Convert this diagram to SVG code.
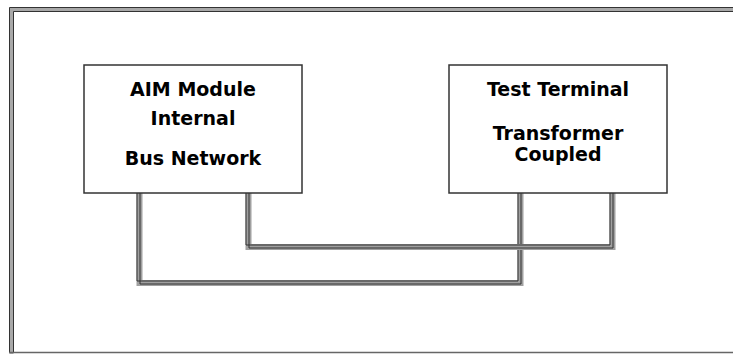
<svg xmlns="http://www.w3.org/2000/svg" width="733" height="354" viewBox="0 0 733 354">
<style>
.box{fill:#fff;stroke:#333;stroke-width:1.5}
.lbl{font-family:"DejaVu Sans","Liberation Sans",sans-serif;font-weight:bold;font-size:19px;fill:#000;text-anchor:middle}
.band{fill:none;stroke:#a0a0a0;stroke-width:6}
.edge{fill:none;stroke:#333;stroke-width:1}
</style>
<rect x="0" y="0" width="733" height="354" fill="#fff"/>
<g id="frame">
<path d="M11.5,354 V9.5 H733" fill="none" stroke="#a8a8a8" stroke-width="4"/>
<path d="M9.5,352 V7.5 H733" class="edge" stroke-width="1.5"/>
<path d="M13.5,352 V11.5 H733" class="edge" stroke-width="1.5"/>
<path d="M9,352.5 H733" fill="none" stroke="#666" stroke-width="1.5"/>
</g>
<g id="connectors">
<path class="band" d="M139.5,193 V283 H520.5 V193"/>
<path class="edge" d="M137,193 V281 H518 V193"/>
<path class="edge" d="M140,193 V284 H521 V193"/>
<path class="band" d="M248.5,193 V247 H612.5 V193"/>
<path class="edge" d="M246,193 V245 H610 V193"/>
<path class="edge" d="M249,193 V248 H613 V193"/>
</g>
<g id="aim">
<rect class="box" x="84" y="65" width="218" height="128"/>
<text class="lbl" x="193" y="96">AIM Module</text>
<text class="lbl" x="193" y="125">Internal</text>
<text class="lbl" x="193" y="165">Bus Network</text>
</g>
<g id="terminal">
<rect class="box" x="449" y="65" width="218" height="128"/>
<text class="lbl" x="558" y="96">Test Terminal</text>
<text class="lbl" x="558" y="140">Transformer</text>
<text class="lbl" x="558" y="161">Coupled</text>
</g>
</svg>
